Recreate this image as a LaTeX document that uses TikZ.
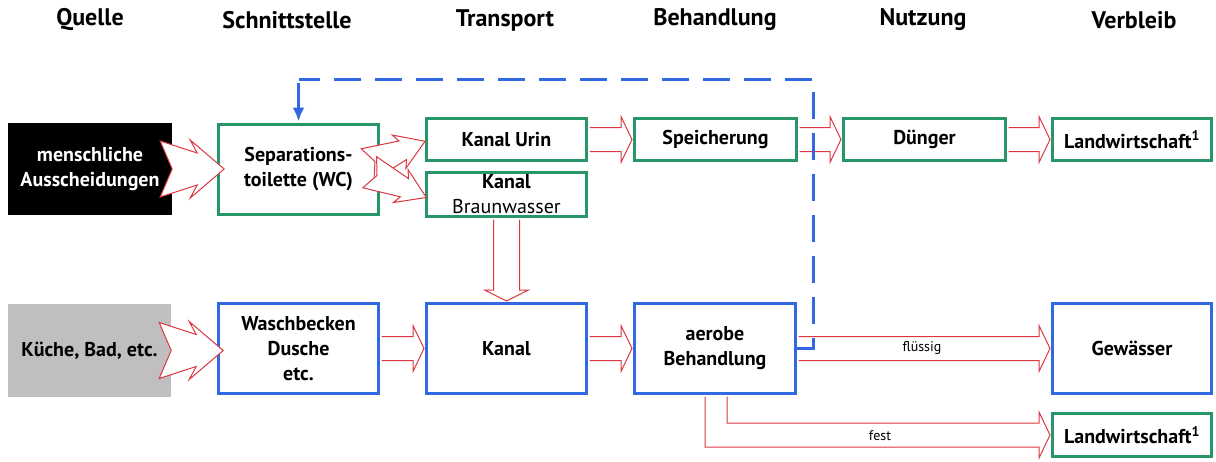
\documentclass[tikz,border=0pt]{standalone}
\usepackage{fontspec}
\setmainfont{PT Sans}
\usetikzlibrary{arrows.meta,calc}
\definecolor{bxgreen}{RGB}{40,150,105}
\definecolor{bxblue}{RGB}{50,105,225}
\definecolor{arred}{RGB}{220,55,65}
\definecolor{srcgrey}{RGB}{192,190,192}
\tikzset{
 box/.style={draw, line width=3pt, minimum width=160pt, minimum height=44pt, inner sep=0pt, align=center, font=\bfseries\fontsize{20}{25}\selectfont},
 gbox/.style={box, draw=bxgreen},
 bbox/.style={box, draw=bxblue},
 srcbox/.style={inner sep=0pt, align=center, minimum width=164pt, minimum height=92pt, font=\bfseries\fontsize{20}{25}\selectfont},
 headtxt/.style={font=\bfseries\fontsize{24}{28}\selectfont},
 arrline/.style={draw=arred, line width=1pt, line join=miter},
 fb/.style={draw=bxblue, line width=3pt, dash pattern=on 27pt off 14pt},
 lbl/.style={font=\fontsize{14}{16}\selectfont},
 notchbig/.pic={\filldraw[arrline, fill=white] (-12,-28) -- (25,-16) -- (18,-29) -- (52,0) -- (18,29) -- (25,16) -- (-12,28) -- (0,0) -- cycle;},
 notchsmall/.pic={\filldraw[arrline, fill=white] (-8,-17) -- (30,-10) -- (26,-18) -- (54,0) -- (26,18) -- (30,10) -- (-8,17) -- (0,0) -- cycle;}
}
\newcommand{\blockH}[2]{%
\fill[white] let \p1=(#1.east), \p2=(#2.west) in (\x1+1.5pt,\y2+12pt) -- (\x2-12pt,\y2+12pt) -- (\x2-12pt,\y2+23pt) -- (\x2-1pt,\y2) -- (\x2-12pt,\y2-23pt) -- (\x2-12pt,\y2-12pt) -- (\x1+1.5pt,\y2-12pt) -- cycle;
\draw[arrline] let \p1=(#1.east), \p2=(#2.west) in (\x1+1.5pt,\y2+12pt) -- (\x2-12pt,\y2+12pt) -- (\x2-12pt,\y2+23pt) -- (\x2-1pt,\y2) -- (\x2-12pt,\y2-23pt) -- (\x2-12pt,\y2-12pt) -- (\x1+1.5pt,\y2-12pt);}
\begin{document}
\begin{tikzpicture}[x=1pt,y=-1pt]
\useasboundingbox (0,0) rectangle (1216,461);
% headers
\node[headtxt] (h1) at (90,20) {Quelle};
\node[headtxt] (h2) at (287,20) {Schnittstelle};
\node[headtxt] (h3) at (505,20) {Transport};
\node[headtxt] (h4) at (715,20) {Behandlung};
\node[headtxt] (h5) at (923,20) {Nutzung};
\node[headtxt] (h6) at (1134,20) {Verbleib};
% top row
\node[srcbox, fill=black, text=white] (src1) at (90,169) {menschliche\\Ausscheidungen};
\node[gbox, minimum height=90pt] (sep) at (298.5,169.5) {Separations-\\toilette (WC)};
\node[gbox, minimum height=42pt] (urin) at (506.5,139.5) {Kanal Urin};
\node[gbox, minimum height=44pt] (braun) at (506.5,194.5) {Kanal\\\mdseries Braunwasser};
\node[gbox, minimum height=42pt, minimum width=162pt] (speich) at (715.5,139.5) {Speicherung};
\node[gbox, minimum height=42pt, minimum width=162pt] (dung) at (924.5,139.5) {Dünger};
\node[gbox, minimum height=42pt, minimum width=159pt] (lw1) at (1132,139.5) {Landwirtschaft\textsuperscript{1}};
% bottom row
\node[srcbox, fill=srcgrey, minimum width=163pt, minimum height=93pt] (src2) at (89.5,350.5) {Küche, Bad, etc.};
\node[bbox, minimum height=90pt] (wasch) at (298.5,348.5) {Waschbecken\\Dusche\\etc.};
\node[bbox, minimum height=90pt] (kanal) at (506.5,348.5) {Kanal};
\node[bbox, minimum height=90pt, minimum width=161pt] (aerobe) at (715,348.5) {aerobe\\Behandlung};
\node[bbox, minimum height=90pt, minimum width=159pt] (gew) at (1132,348.5) {Gewässer};
\node[gbox, minimum height=43pt, minimum width=159pt] (lw2) at (1132,435) {Landwirtschaft\textsuperscript{1}};
% block arrows
\blockH{urin}{speich}
\blockH{speich}{dung}
\blockH{dung}{lw1}
\blockH{wasch}{kanal}
\blockH{kanal}{aerobe}
\blockH{aerobe}{gew}
% vertical Braunwasser -> Kanal
\fill[white] let \p1=(braun.south), \p2=(kanal.north) in (\x1-13pt,\y1-1.5pt) -- (\x1-13pt,\y2+12pt) -- (\x1-22pt,\y2+12pt) -- (\x1,\y2+1pt) -- (\x1+22pt,\y2+12pt) -- (\x1+13pt,\y2+12pt) -- (\x1+13pt,\y1-1.5pt) -- cycle;
\draw[arrline] let \p1=(braun.south), \p2=(kanal.north) in (\x1-13pt,\y1-1.5pt) -- (\x1-13pt,\y2+12pt) -- (\x1-22pt,\y2+12pt) -- (\x1,\y2+1pt) -- (\x1+22pt,\y2+12pt) -- (\x1+13pt,\y2+12pt) -- (\x1+13pt,\y1-1.5pt);
% fest arrow
\fill[white] let \p1=(aerobe.south), \p2=(lw2.west) in (\x1-10pt,\y1-1.5pt) -- (\x1-10pt,\y2-12pt) -- (\x2-12pt,\y2-12pt) -- (\x2-12pt,\y2-23pt) -- (\x2-1pt,\y2) -- (\x2-12pt,\y2+23pt) -- (\x2-12pt,\y2+12pt) -- (\x1+12pt,\y2+12pt) -- (\x1+12pt,\y1-1.5pt) -- cycle;
\draw[arrline] let \p1=(aerobe.south), \p2=(lw2.west) in (\x1-10pt,\y1-1.5pt) -- (\x1-10pt,\y2-12pt) -- (\x2-12pt,\y2-12pt) -- (\x2-12pt,\y2-23pt) -- (\x2-1pt,\y2) -- (\x2-12pt,\y2+23pt) -- (\x2-12pt,\y2+12pt) -- (\x1+12pt,\y2+12pt) -- (\x1+12pt,\y1-1.5pt);
% notched arrows
\pic at (src1.east) {notchbig};
\pic at (src2.east) {notchbig};
\pic[rotate=22] at ([shift={(-5,-8)}]sep.east) {notchsmall};
\pic[rotate=-24] at ([shift={(-3,6)}]sep.east) {notchsmall};
% feedback (dashed)
\coordinate (fbc1) at (813,79);
\coordinate (fbc2) at (sep.north |- fbc1);
\draw[fb] (aerobe.east) -- (aerobe.east -| fbc1) -- (fbc1) -- (fbc2);
\draw[draw=bxblue, line width=3pt, -{Latex[length=14pt,width=12pt]}] ([yshift=-4pt]fbc2) -- ([yshift=1.5pt]sep.north);
% labels
\node[lbl] (lfl) at (922,348) {flüssig};
\node[lbl] (lfe) at (880,436) {fest};
\end{tikzpicture}
\end{document}
